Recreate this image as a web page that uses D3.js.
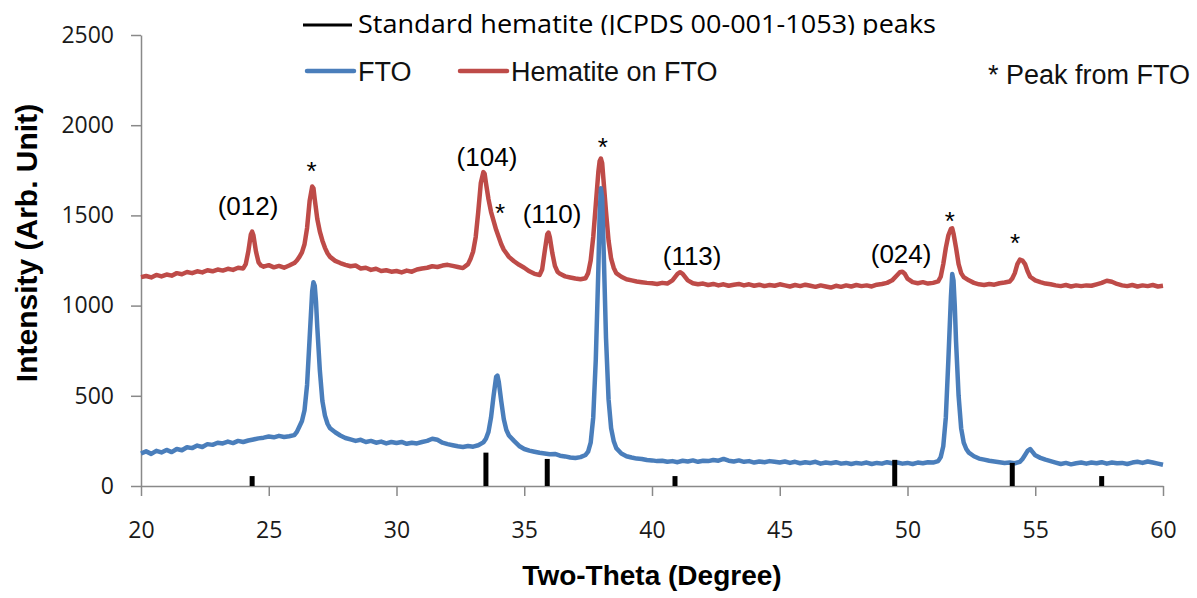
<!DOCTYPE html>
<html>
<head>
<meta charset="utf-8">
<script src="https://cdn.jsdelivr.net/npm/d3@7"></script>
<style>
body { margin: 0; background: #fff; }
svg { display: block; }
.axis path, .axis line { stroke: #898989; stroke-width: 1.5; }
.axis text { font-family: "Open Sans", sans-serif; font-size: 23px; fill: #1a1a1a; }
</style>
</head>
<body>
<script>
/* Data */
var xTicks = [20, 25, 30, 35, 40, 45, 50, 55, 60],
	yTicks = [0, 500, 1000, 1500, 2000, 2500];

// FTO substrate pattern [2theta, intensity]
var ftoData = [
	[20.0,180],[20.2,192],[20.4,178],[20.6,195],[20.8,186],[21.0,200],[21.2,188],[21.4,205],[21.6,198],[21.8,215],
	[22.0,210],[22.2,224],[22.4,216],[22.6,232],[22.8,228],[23.0,240],[23.2,236],[23.4,246],[23.6,238],[23.8,250],
	[24.0,244],[24.2,252],[24.4,258],[24.6,264],[24.8,268],[25.0,274],[25.2,270],[25.4,278],[25.6,272],[25.8,276],
	[26.0,282],[26.1,300],[26.2,330],[26.3,360],[26.4,420],[26.5,560],[26.6,820],[26.7,1080],[26.75,1130],[26.8,1110],
	[26.85,1020],[26.9,880],[27.0,640],[27.1,470],[27.2,390],[27.3,345],[27.4,320],[27.6,298],[27.8,280],[28.0,266],
	[28.2,258],[28.4,250],[28.6,256],[28.8,244],[29.0,250],[29.2,240],[29.4,246],[29.6,236],[29.8,244],[30.0,238],
	[30.2,244],[30.4,234],[30.6,240],[30.8,236],[31.0,244],[31.2,250],[31.4,262],[31.6,256],[31.8,240],[32.0,232],
	[32.2,226],[32.4,220],[32.6,216],[32.8,222],[33.0,218],[33.2,226],[33.4,242],[33.5,262],[33.6,300],[33.7,380],
	[33.8,500],[33.9,605],[33.95,612],[34.0,580],[34.1,470],[34.2,370],[34.3,310],[34.4,280],[34.6,250],[34.8,222],
	[35.0,205],[35.2,196],[35.4,190],[35.6,184],[35.8,180],[36.0,176],[36.2,178],[36.4,168],[36.6,164],[36.8,158],
	[37.0,155],[37.2,160],[37.4,172],[37.5,190],[37.6,240],[37.7,380],[37.8,700],[37.9,1200],[37.95,1500],[38.0,1650],
	[38.05,1600],[38.1,1350],[38.2,820],[38.3,480],[38.4,320],[38.5,250],[38.6,210],[38.8,180],[39.0,165],[39.2,158],
	[39.4,152],[39.6,150],[39.8,144],[40.0,142],[40.2,138],[40.4,140],[40.6,134],[40.8,138],[41.0,132],[41.2,140],
	[41.4,136],[41.6,142],[41.8,134],[42.0,140],[42.2,138],[42.4,144],[42.6,140],[42.8,150],[43.0,140],[43.2,136],
	[43.4,142],[43.6,134],[43.8,138],[44.0,130],[44.2,136],[44.4,132],[44.6,138],[44.8,134],[45.0,130],[45.2,136],
	[45.4,128],[45.6,134],[45.8,126],[46.0,132],[46.2,128],[46.4,134],[46.6,124],[46.8,130],[47.0,126],[47.2,132],
	[47.4,124],[47.6,128],[47.8,122],[48.0,128],[48.2,124],[48.4,130],[48.6,122],[48.8,128],[49.0,124],[49.2,132],
	[49.4,126],[49.6,130],[49.8,124],[50.0,128],[50.2,122],[50.4,130],[50.6,126],[50.8,132],[51.0,130],[51.2,138],
	[51.3,160],[51.4,220],[51.5,380],[51.6,700],[51.7,1050],[51.75,1175],[51.8,1140],[51.85,1000],[51.9,800],[52.0,500],
	[52.1,320],[52.2,240],[52.3,205],[52.4,185],[52.6,165],[52.8,152],[53.0,146],[53.2,140],[53.4,136],[53.6,132],
	[53.8,128],[54.0,130],[54.2,126],[54.4,134],[54.5,150],[54.6,172],[54.7,195],[54.8,205],[54.9,188],[55.0,170],
	[55.2,156],[55.4,146],[55.6,138],[55.8,130],[56.0,122],[56.2,128],[56.4,120],[56.6,126],[56.8,130],[57.0,124],
	[57.2,130],[57.4,126],[57.6,132],[57.8,124],[58.0,130],[58.2,126],[58.4,128],[58.6,122],[58.8,130],[59.0,134],
	[59.2,128],[59.4,136],[59.6,130],[59.8,124],[60.0,118]
];

// Hematite film on FTO [2theta, intensity]
var hematiteData = [
	[20.0,1158],[20.2,1164],[20.4,1156],[20.6,1170],[20.8,1162],[21.0,1172],[21.2,1166],[21.4,1180],[21.6,1174],[21.8,1186],
	[22.0,1180],[22.2,1190],[22.4,1184],[22.6,1196],[22.8,1190],[23.0,1200],[23.2,1194],[23.4,1204],[23.6,1198],[23.8,1210],
	[24.0,1206],[24.1,1230],[24.2,1300],[24.3,1395],[24.35,1410],[24.4,1390],[24.5,1300],[24.6,1240],[24.7,1222],[24.8,1216],
	[25.0,1224],[25.2,1212],[25.4,1220],[25.6,1210],[25.8,1222],[26.0,1236],[26.1,1250],[26.2,1270],[26.3,1295],[26.4,1340],
	[26.5,1430],[26.6,1580],[26.7,1660],[26.75,1650],[26.8,1590],[26.9,1480],[27.0,1410],[27.1,1360],[27.2,1320],[27.3,1290],
	[27.4,1270],[27.6,1248],[27.8,1236],[28.0,1226],[28.2,1218],[28.4,1222],[28.6,1206],[28.8,1210],[29.0,1198],[29.2,1204],
	[29.4,1192],[29.6,1196],[29.8,1188],[30.0,1192],[30.2,1184],[30.4,1194],[30.6,1188],[30.8,1200],[31.0,1206],[31.2,1210],
	[31.4,1218],[31.6,1214],[31.8,1222],[32.0,1226],[32.2,1220],[32.4,1214],[32.6,1208],[32.8,1230],[32.9,1260],[33.0,1300],
	[33.1,1380],[33.2,1520],[33.3,1680],[33.4,1740],[33.45,1730],[33.5,1680],[33.6,1590],[33.7,1520],[33.8,1470],[33.9,1420],
	[34.0,1380],[34.1,1340],[34.2,1310],[34.3,1290],[34.4,1270],[34.6,1246],[34.8,1226],[35.0,1210],[35.2,1190],[35.4,1176],
	[35.6,1170],[35.7,1200],[35.8,1300],[35.9,1395],[35.95,1405],[36.0,1380],[36.1,1290],[36.2,1220],[36.3,1188],[36.4,1176],
	[36.6,1162],[36.8,1156],[37.0,1150],[37.2,1146],[37.4,1152],[37.5,1180],[37.6,1250],[37.7,1380],[37.8,1560],[37.9,1740],
	[37.95,1800],[38.0,1815],[38.05,1790],[38.1,1700],[38.2,1520],[38.3,1360],[38.4,1260],[38.5,1210],[38.6,1180],[38.8,1160],
	[39.0,1146],[39.2,1140],[39.4,1134],[39.6,1130],[39.8,1126],[40.0,1124],[40.2,1120],[40.4,1126],[40.6,1122],[40.8,1140],
	[41.0,1176],[41.1,1185],[41.2,1176],[41.4,1140],[41.6,1124],[41.8,1118],[42.0,1122],[42.2,1114],[42.4,1120],[42.6,1112],
	[42.8,1118],[43.0,1110],[43.2,1116],[43.4,1120],[43.6,1112],[43.8,1118],[44.0,1110],[44.2,1116],[44.4,1108],[44.6,1114],
	[44.8,1110],[45.0,1118],[45.2,1112],[45.4,1106],[45.6,1114],[45.8,1108],[46.0,1116],[46.2,1110],[46.4,1104],[46.6,1112],
	[46.8,1106],[47.0,1100],[47.2,1110],[47.4,1104],[47.6,1112],[47.8,1106],[48.0,1114],[48.2,1108],[48.4,1112],[48.6,1106],
	[48.8,1116],[49.0,1120],[49.2,1126],[49.4,1140],[49.6,1170],[49.7,1185],[49.8,1188],[49.9,1175],[50.0,1150],[50.2,1130],
	[50.4,1124],[50.6,1130],[50.8,1122],[51.0,1126],[51.2,1134],[51.3,1160],[51.4,1230],[51.5,1320],[51.6,1390],[51.7,1425],
	[51.75,1428],[51.8,1400],[51.9,1320],[52.0,1230],[52.1,1180],[52.2,1158],[52.4,1140],[52.6,1126],[52.8,1118],[53.0,1114],
	[53.2,1120],[53.4,1116],[53.6,1124],[53.8,1128],[54.0,1134],[54.1,1150],[54.2,1180],[54.3,1230],[54.4,1255],[54.5,1250],
	[54.6,1230],[54.7,1190],[54.8,1160],[55.0,1140],[55.2,1130],[55.4,1122],[55.6,1118],[55.8,1112],[56.0,1108],[56.2,1114],
	[56.4,1106],[56.6,1112],[56.8,1108],[57.0,1112],[57.2,1110],[57.4,1118],[57.6,1126],[57.8,1138],[58.0,1132],[58.2,1120],
	[58.4,1112],[58.6,1108],[58.8,1114],[59.0,1106],[59.2,1112],[59.4,1108],[59.6,1114],[59.8,1106],[60.0,1110]
];

// Standard hematite (JCPDS 00-001-1053) stick pattern
var stdTheta = [24.35, 33.5, 35.9, 40.9, 49.5, 54.1, 57.6],
	stdIntensity = [55, 185, 150, 55, 145, 128, 55];

// Miller index labels and FTO markers (anchored in data units)
var hklLabels = ["(012)", "(104)", "(110)", "(113)", "(024)"],
	hklTheta = [24.19, 33.54, 36.09, 41.57, 49.75],
	hklIntensity = [1502, 1774, 1458, 1225, 1236],
	starTheta = [26.68, 34.05, 38.07, 51.66, 54.21],
	starIntensity = [1696, 1463, 1829, 1419, 1297];

/* Display setup */
var displayArea = {width: 1197, height: 598},
	margin = {top: 35, right: 34, bottom: 112, left: 141},
	width = displayArea.width - margin.left - margin.right,
	height = displayArea.height - margin.top - margin.bottom,
	colors = {fto: "#4a7ebb", hematite: "#be4b48", std: "#000"},
	svg = d3.select("body").append("svg")
		.attr("width", displayArea.width)
		.attr("height", displayArea.height),
	g = svg.append("g").attr("transform", "translate(" + margin.left + "," + margin.top + ")"),
	x = d3.scaleLinear().domain([20, 60]).range([0, width]),
	y = d3.scaleLinear().domain([0, 2500]).range([height, 0]);

/* Axes */
g.append("g")
	.attr("class", "axis")
	.call(d3.axisLeft(y).tickValues(yTicks).tickFormat(d3.format("d"))
		.tickSize(10).tickSizeOuter(0).tickPadding(17));

g.append("g")
	.attr("class", "axis")
	.attr("transform", "translate(0," + height + ")")
	.call(d3.axisBottom(x).tickValues(xTicks).tickFormat(d3.format("d"))
		.tickSize(10).tickSizeOuter(0).tickPadding(26));

/* Patterns */
var line = d3.line()
	.x(function(d) { return x(d[0]); })
	.y(function(d) { return y(d[1]); });

g.append("path")
	.datum(hematiteData)
	.attr("d", line)
	.style("fill", "none")
	.style("stroke", colors.hematite)
	.style("stroke-width", 4.5)
	.style("stroke-linejoin", "round");

g.append("path")
	.datum(ftoData)
	.attr("d", line)
	.style("fill", "none")
	.style("stroke", colors.fto)
	.style("stroke-width", 4.5)
	.style("stroke-linejoin", "round");

g.selectAll(".std")
	.data(stdTheta)
	.enter().append("line")
		.attr("class", "std")
		.attr("x1", function(d) { return x(d); })
		.attr("x2", function(d) { return x(d); })
		.attr("y1", y(0))
		.attr("y2", function(d, i) { return y(stdIntensity[i]); })
		.style("stroke", colors.std)
		.style("stroke-width", 5);

/* Annotations */
g.selectAll(".hkl")
	.data(hklLabels)
	.enter().append("text")
		.attr("class", "hkl")
		.attr("x", function(d, i) { return x(hklTheta[i]); })
		.attr("y", function(d, i) { return y(hklIntensity[i]); })
		.attr("text-anchor", "middle")
		.style("font-family", "Liberation Sans, Arial, sans-serif")
		.style("font-size", "26px")
		.text(function(d) { return d; });

g.selectAll(".star")
	.data(starTheta)
	.enter().append("text")
		.attr("class", "star")
		.attr("x", function(d) { return x(d); })
		.attr("y", function(d, i) { return y(starIntensity[i]); })
		.attr("text-anchor", "middle")
		.style("font-family", "Liberation Sans, Arial, sans-serif")
		.style("font-size", "26px")
		.text("*");

/* Axis titles */
svg.append("text")
	.attr("x", margin.left + width / 2)
	.attr("y", 585)
	.attr("text-anchor", "middle")
	.style("font-family", "Liberation Sans, Arial, sans-serif")
	.style("font-weight", "bold")
	.style("font-size", "28px")
	.text("Two-Theta (Degree)");

svg.append("text")
	.attr("transform", "translate(37,243) rotate(-90)")
	.attr("text-anchor", "middle")
	.style("font-family", "Liberation Sans, Arial, sans-serif")
	.style("font-weight", "bold")
	.style("font-size", "30px")
	.text("Intensity (Arb. Unit)");

/* Legend */
svg.append("clipPath").attr("id", "legendClip")
	.append("rect").attr("x", 0).attr("y", 0).attr("width", displayArea.width).attr("height", 35);

svg.append("line")
	.attr("x1", 303).attr("x2", 352).attr("y1", 25).attr("y2", 25)
	.style("stroke", colors.std).style("stroke-width", 3);

svg.append("text")
	.attr("x", 358).attr("y", 33)
	.attr("clip-path", "url(#legendClip)")
	.attr("textLength", 578)
	.attr("lengthAdjust", "spacingAndGlyphs")
	.style("font-family", "Open Sans, sans-serif")
	.style("font-size", "26px")
	.text("Standard hematite (JCPDS 00-001-1053) peaks");

var legendItems = [
	{label: "FTO", color: colors.fto, x: 307},
	{label: "Hematite on FTO", color: colors.hematite, x: 460}
];

var legend = svg.selectAll(".legend")
	.data(legendItems)
	.enter().append("g")
		.attr("class", "legend")
		.attr("transform", function(d) { return "translate(" + d.x + ",71)"; });

legend.append("line")
	.attr("x1", 0).attr("x2", 47)
	.style("stroke", function(d) { return d.color; })
	.style("stroke-width", 4.5)
	.style("stroke-linecap", "round");

legend.append("text")
	.attr("x", 51).attr("y", 10)
	.style("font-family", "Liberation Sans, Arial, sans-serif")
	.style("font-size", "27px")
	.style("fill", "#111")
	.text(function(d) { return d.label; });

svg.append("text")
	.attr("x", 988).attr("y", 84)
	.style("font-family", "Liberation Sans, Arial, sans-serif")
	.style("font-size", "27px")
	.style("fill", "#111")
	.text("* Peak from FTO");
</script>
</body>
</html>
